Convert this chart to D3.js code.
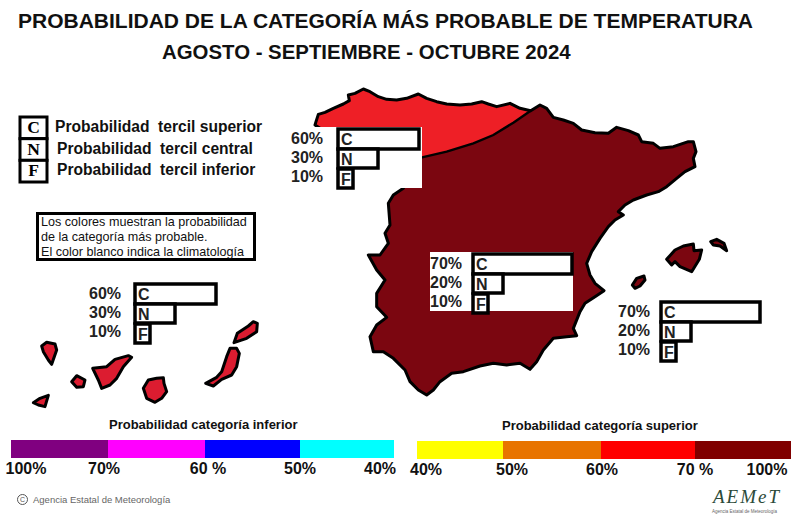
<!DOCTYPE html>
<html>
<head>
<meta charset="utf-8">
<style>
  html, body { margin: 0; background: #fff; }
  text { font-family: "Liberation Sans", Arial, sans-serif; }
</style>
<script src="https://cdn.jsdelivr.net/npm/d3@7"></script>
</head>
<body>
<svg width="800" height="520"></svg>
<script>
// probabilities of each tercile, per region
var categories = ["C", "N", "F"];
var northProb = [60, 30, 10];
var centreProb = [70, 20, 10];
var balearProb = [70, 20, 10];
var canaryProb = [60, 30, 10];

// colour bars
var lowerBreaks = [100, 70, 60, 50, 40];
var lowerLabels = ["100%", "70%", "60 %", "50%", "40%"];
var lowerColors = ["#800080", "#ff00ff", "#0000ff", "#00ffff"];
var upperBreaks = [40, 50, 60, 70, 100];
var upperLabels = ["40%", "50%", "60%", "70 %", "100%"];
var upperColors = ["#ffff00", "#e87400", "#ff0000", "#800000"];

var keyLetters = ["C", "N", "F"];
var keyLabels = ["Probabilidad  tercil superior", "Probabilidad  tercil central", "Probabilidad  tercil inferior"];
var noteLines = ["Los colores muestran la probabilidad", "de la categoría más probable.", "El color blanco indica la climatología"];

// outlines, in tracing units
var northCoast = [[105,135],[108,125],[115,103],[135,97],[160,85],[190,72],[208,62],[205,45],[225,40],[250,27],[270,35],[295,50],[320,58],[350,60],[380,55],[415,42],[440,55],[470,65],[500,72],[540,75],[575,72],[605,65],[625,72],[650,80],[690,70],[720,85],[752,92]];
var tercileBorder = [[752,92],[700,128],[640,165],[580,190],[500,215],[426,232],[300,262]];
var eastCoast = [[752,92],[780,75],[800,85],[820,112],[850,120],[880,130],[905,150],[945,158],[985,160],[1010,142],[1045,152],[1075,165],[1085,185],[1120,190],[1140,205],[1180,200],[1225,185],[1240,185],[1248,215],[1240,235],[1245,260],[1215,275],[1190,295],[1160,320],[1135,335],[1100,345],[1060,360],[1035,375],[1015,395],[1030,405],[1005,420],[985,440],[960,475],[935,515],[920,550],[930,585],[945,610],[972,632],[945,650],[915,670],[900,695],[880,745],[890,767],[860,770],[820,775],[790,810],[770,845],[750,868],[720,850],[680,855],[640,850],[600,858],[550,875],[515,880],[480,905],[460,930],[440,945],[415,930],[390,905],[375,870],[340,835],[310,815],[280,815],[270,770],[290,735],[320,712],[290,680],[290,640],[315,600],[290,570],[265,525],[300,525],[325,490],[315,460],[330,435],[325,370],[340,345],[370,325],[300,262],[105,135]];
var mallorca = [[200,118],[225,90],[250,78],[280,72],[282,92],[305,90],[298,118],[275,155],[240,140],[225,125],[215,135]];
var menorca = [[332,65],[350,58],[372,70],[380,92],[360,78],[340,75]];
var ibiza = [[97,195],[110,175],[132,168],[135,180],[120,198],[105,205]];
var laPalma = [[125,228],[140,217],[165,222],[170,240],[155,283],[145,270],[130,245]];
var elHierro = [[100,398],[120,385],[145,376],[135,410],[115,405]];
var laGomera = [[215,335],[230,317],[255,330],[250,350],[230,352]];
var tenerife = [[278,295],[320,290],[345,268],[385,257],[395,262],[370,290],[350,325],[330,345],[305,355],[295,330]];
var granCanaria = [[430,355],[445,330],[470,325],[490,323],[492,340],[500,365],[485,385],[465,397],[440,385]];
var fuerteventura = [[617,340],[650,322],[665,305],[680,260],[690,235],[710,235],[718,250],[710,290],[695,315],[665,328],[640,348]];
var lanzarote = [[702,218],[712,190],[745,168],[760,155],[772,160],[770,185],[740,205]];

var svg = d3.select("svg");
svg.append("rect").attr("width", 800).attr("height", 520).attr("fill", "#fff");

function project(xRange, yRange, xMax, yMax) {
  var x = d3.scaleLinear().domain([0, xMax]).range(xRange);
  var y = d3.scaleLinear().domain([0, yMax]).range(yRange);
  return d3.line().x(function(d) { return x(d[0]); }).y(function(d) { return y(d[1]); });
}
var peninsulaLine = project([280, 720], [80, 410], 1320, 990);
var balearLine = project([600, 780], [220, 370], 540, 450);
var canaryLine = project([0, 280], [270, 420], 840, 450);

// the whole peninsula, then the north zone on top
svg.append("path").attr("d", peninsulaLine(northCoast.concat(eastCoast.slice(1))) + "Z")
  .attr("fill", "#7b0610");
svg.append("path").attr("d", peninsulaLine(northCoast.concat(tercileBorder.slice(1))) + "Z")
  .attr("fill", "#ee1f26");
svg.append("path").attr("d", peninsulaLine(northCoast.concat(eastCoast.slice(1))) + "Z")
  .attr("fill", "none").attr("stroke", "#000").attr("stroke-width", 3).attr("stroke-linejoin", "round");
svg.append("path").attr("d", peninsulaLine(tercileBorder))
  .attr("fill", "none").attr("stroke", "#000").attr("stroke-width", 2.4);

[mallorca, menorca, ibiza].forEach(function(isl) {
  svg.append("path").attr("d", balearLine(isl) + "Z")
    .attr("fill", "#7b0610").attr("stroke", "#000").attr("stroke-width", 3).attr("stroke-linejoin", "round");
});
[laPalma, elHierro, laGomera, tenerife, granCanaria, fuerteventura, lanzarote].forEach(function(isl) {
  svg.append("path").attr("d", canaryLine(isl) + "Z")
    .attr("fill", "#dc1c30").attr("stroke", "#000").attr("stroke-width", 3).attr("stroke-linejoin", "round");
});

// title
svg.append("text").attr("x", 18).attr("y", 28).attr("font-size", 21).attr("font-weight", "bold").attr("fill", "#111")
  .text("PROBABILIDAD DE LA CATEGORÍA MÁS PROBABLE DE TEMPERATURA");
svg.append("text").attr("x", 162).attr("y", 59).attr("font-size", 20.4).attr("font-weight", "bold").attr("fill", "#111")
  .text("AGOSTO - SEPTIEMBRE - OCTUBRE 2024");

// tercile key
var keyY = d3.scaleBand().domain(keyLetters).range([117, 182]);
var keyTextX = d3.scaleOrdinal().domain(keyLetters).range([55, 57, 57]);
svg.selectAll(".keyBox").data(keyLetters).enter().append("rect")
  .attr("x", 20).attr("y", function(d) { return keyY(d); })
  .attr("width", 27).attr("height", keyY.bandwidth())
  .attr("fill", "#fff").attr("stroke", "#000").attr("stroke-width", 3);
svg.selectAll(".keyLetter").data(keyLetters).enter().append("text")
  .attr("x", 33.5).attr("y", function(d) { return keyY(d) + 16; })
  .attr("text-anchor", "middle").attr("font-size", 17.5).attr("font-weight", "bold")
  .style("font-family", "'Liberation Serif', serif")
  .text(function(d) { return d; });
svg.selectAll(".keyLabel").data(keyLabels).enter().append("text")
  .attr("x", function(d, i) { return keyTextX(keyLetters[i]); })
  .attr("y", function(d, i) { return keyY(keyLetters[i]) + 15; })
  .attr("font-size", 15.6).attr("font-weight", "bold").attr("fill", "#111").style("white-space", "pre")
  .text(function(d) { return d; });

// note box
svg.append("rect").attr("x", 37.5).attr("y", 213.5).attr("width", 217).attr("height", 46)
  .attr("fill", "#fff").attr("stroke", "#000").attr("stroke-width", 3);
svg.selectAll(".note").data(noteLines).enter().append("text")
  .attr("x", 41).attr("y", function(d, i) { return 226 + i * 15; })
  .attr("font-size", 12.6).attr("fill", "#111").text(function(d) { return d; });

// probability bars
var barWidth = d3.scaleLinear().domain([10, 20, 30, 60, 70]).range([15, 30, 40, 81, 99]);
var rowY = d3.scalePoint().domain(categories).range([0, 40]);
var labelY = d3.scalePoint().domain(categories).range([15, 53]);

function drawBars(probs, x, y, labelX, backing) {
  var g = svg.append("g").attr("transform", "translate(" + x + "," + y + ")");
  if (backing) {
    g.append("rect").attr("x", backing[0]).attr("y", -2).attr("width", backing[1]).attr("height", backing[2]).attr("fill", "#fff");
  }
  categories.forEach(function(c, i) {
    g.append("rect").attr("x", 0).attr("y", rowY(c)).attr("width", barWidth(probs[i]))
      .attr("height", i == 0 ? 20 : 19)
      .attr("fill", "#fff").attr("stroke", "#000").attr("stroke-width", 3.5);
    g.append("text").attr("x", 3).attr("y", rowY(c) + 16).attr("font-size", 16).attr("font-weight", "bold").attr("fill", "#222").text(c);
    g.append("text").attr("x", labelX).attr("y", labelY(c)).attr("font-size", 16).attr("font-weight", "bold")
      .attr("fill", "#222").text(probs[i] + "%");
  });
}
drawBars(northProb, 338, 129, -47, [-50, 134, 61]);
drawBars(centreProb, 473, 254, -43, [-43, 143, 59]);
drawBars(balearProb, 661, 302, -43, null);
drawBars(canaryProb, 135, 284, -46, null);

// colour bars
function drawScale(breaks, labels, colors, barRange, labelRange, y, title, titleX) {
  var x = d3.scaleLinear().domain(breaks).range(barRange);
  var tickX = d3.scaleLinear().domain(breaks).range(labelRange);
  svg.append("g").selectAll("rect").data(colors).enter().append("rect")
    .attr("x", function(d, i) { return x(breaks[i]); })
    .attr("y", y)
    .attr("width", function(d, i) { return x(breaks[i + 1]) - x(breaks[i]); })
    .attr("height", 18)
    .attr("fill", function(d) { return d; });
  svg.append("g").selectAll("text").data(labels).enter().append("text")
    .attr("x", function(d, i) { return tickX(breaks[i]); })
    .attr("y", y + 34)
    .attr("text-anchor", "middle").attr("font-size", 16).attr("font-weight", "bold").attr("fill", "#111")
    .text(function(d) { return d; });
  svg.append("text").attr("x", titleX).attr("y", y - 11).attr("font-size", 13).attr("font-weight", "bold").attr("fill", "#111").text(title);
}
drawScale(lowerBreaks, lowerLabels, lowerColors, [11, 108, 205, 300, 394], [26, 104, 208, 300, 380], 440, "Probabilidad categoría inferior", 109);
drawScale(upperBreaks, upperLabels, upperColors, [417, 503, 601, 695, 791], [426, 512, 602, 695, 767], 441, "Probabilidad categoría superior", 502);

// footer
svg.append("circle").attr("cx", 22.5).attr("cy", 499.5).attr("r", 5).attr("fill", "none").attr("stroke", "#555").attr("stroke-width", 1);
svg.append("text").attr("x", 22.5).attr("y", 502).attr("text-anchor", "middle").attr("font-size", 7).attr("fill", "#555").text("C");
svg.append("text").attr("x", 33).attr("y", 503).attr("font-size", 9.5).attr("fill", "#666").text("Agencia Estatal de Meteorología");
svg.append("text").attr("x", 713).attr("y", 503).attr("font-size", 19).attr("font-style", "italic")
  .attr("textLength", 66).attr("fill", "#2c4a3a").style("font-family", "'Liberation Serif', serif").text("AEMeT");
svg.append("text").attr("x", 712).attr("y", 513).attr("font-size", 4.5).attr("fill", "#666").text("Agencia Estatal de Meteorología");
</script>
</body>
</html>
